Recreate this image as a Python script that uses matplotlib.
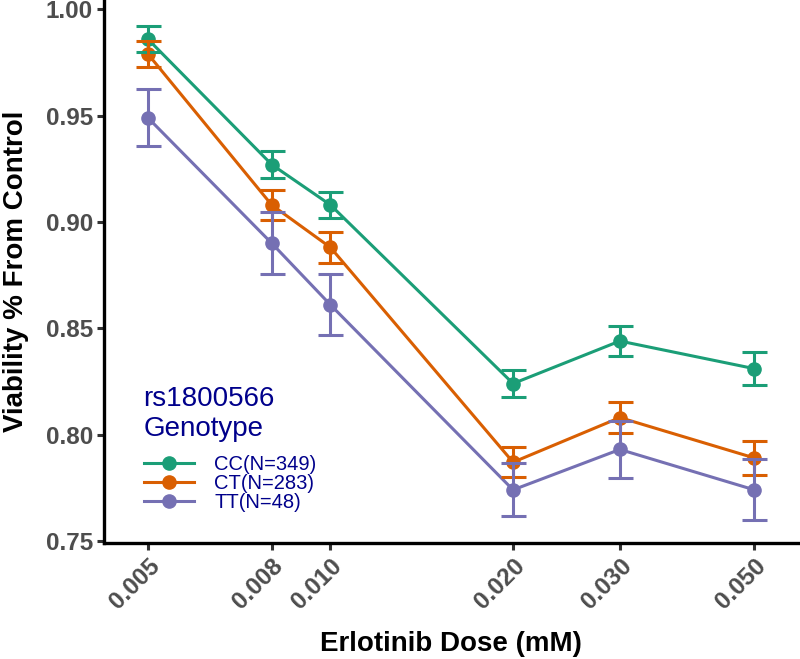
import matplotlib; matplotlib.use('Agg')
import matplotlib.pyplot as plt
from matplotlib.ticker import FixedLocator, NullLocator

plt.rcParams['font.family'] = ['Liberation Sans', 'DejaVu Sans']

doses = [0.005, 0.008, 0.010, 0.020, 0.030, 0.050]
dose_labels = ['0.005', '0.008', '0.010', '0.020', '0.030', '0.050']
genotypes = ['CC(N=349)', 'CT(N=283)', 'TT(N=48)']
colors = ['#1B9E77', '#D95F02', '#7570B3']

cc_mean = [0.986, 0.927, 0.908, 0.824, 0.844, 0.831]
cc_se = [0.006, 0.0063, 0.0063, 0.0062, 0.0069, 0.0078]
ct_mean = [0.979, 0.908, 0.888, 0.787, 0.808, 0.789]
ct_se = [0.006, 0.007, 0.0073, 0.007, 0.0073, 0.0078]
tt_mean = [0.949, 0.890, 0.861, 0.774, 0.793, 0.774]
tt_se = [0.0135, 0.0147, 0.0143, 0.0124, 0.0135, 0.0143]

means = [cc_mean, ct_mean, tt_mean]
ses = [cc_se, ct_se, tt_se]

fig = plt.figure(figsize=(8, 6.59), dpi=100)
ax = fig.add_axes([0.13, 0.176, 0.868, 0.824])

for name, col, m, s in zip(genotypes, colors, means, ses):
    ax.plot(doses, m, color=col, lw=2.2, marker='o', ms=9.5, label=name, zorder=3)
    ax.errorbar(doses, m, yerr=s, fmt='none', ecolor=col, elinewidth=2.2,
                capsize=9, capthick=2.2, zorder=4)

ax.set_xscale('log')
ax.set_xlim(0.004232, 0.05909)
ax.set_ylim(0.749, 1.0044)
ax.xaxis.set_major_locator(FixedLocator(doses))
ax.xaxis.set_minor_locator(NullLocator())
ax.set_xticklabels(dose_labels, rotation=45, ha='right', rotation_mode='anchor')
ax.set_yticks([0.75, 0.80, 0.85, 0.90, 0.95, 1.00])
ax.set_yticklabels(['0.75', '0.80', '0.85', '0.90', '0.95', '1.00'])

for lab in ax.get_xticklabels() + ax.get_yticklabels():
    lab.set_fontsize(17.5)
    lab.set_fontweight('bold')
    lab.set_color('#4D4D4D')

ax.tick_params(axis='both', length=5, width=2.2, color='#333333', pad=3)
ax.spines['right'].set_visible(False)
ax.spines['top'].set_visible(False)
ax.spines['left'].set_linewidth(2.4)
ax.spines['bottom'].set_linewidth(2.4)

ax.set_xlabel('Erlotinib Dose (mM)', fontsize=20, fontweight='bold', labelpad=13)
ax.set_ylabel('Viability % From Control', fontsize=20, fontweight='bold', labelpad=12)

leg = ax.legend(loc='upper left', bbox_to_anchor=(0.057, 0.29), frameon=False,
                title='rs1800566\nGenotype', title_fontsize=20, fontsize=14.5,
                handlelength=2.5, handletextpad=1.0, labelspacing=0.0,
                borderpad=0, borderaxespad=0)
leg._legend_box.align = 'left'
leg._legend_box.sep = 10
leg.get_title().set_color('#00008B')
for t in leg.get_texts():
    t.set_color('#00008B')

plt.savefig('out.png', dpi=100)
